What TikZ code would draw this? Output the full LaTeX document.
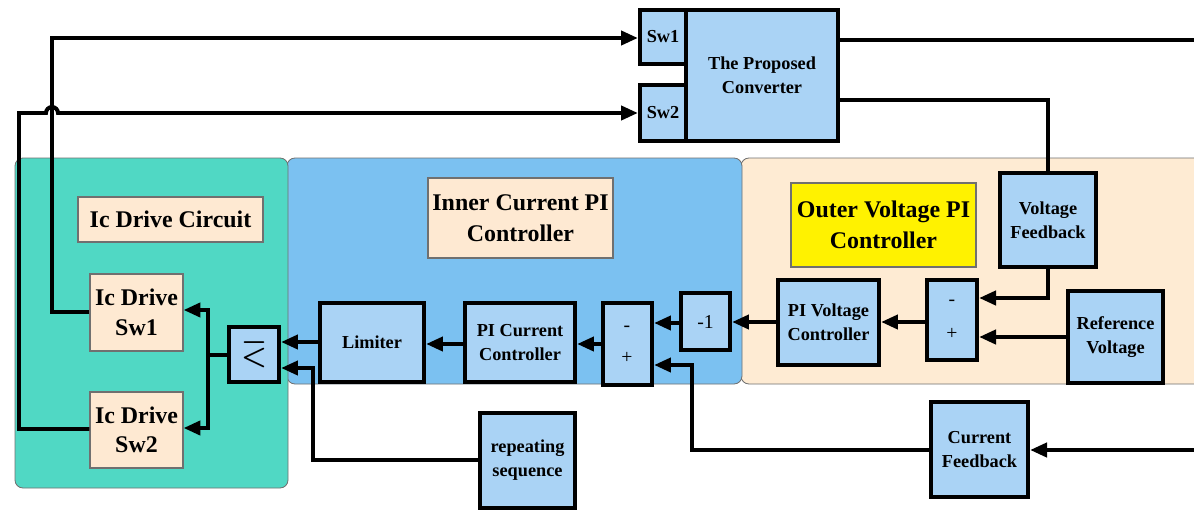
\documentclass[tikz,border=0pt]{standalone}
\usepackage{fontspec}
\setmainfont{Liberation Serif}
\usetikzlibrary{arrows.meta,calc}

\definecolor{tealzone}{HTML}{50D8C4}
\definecolor{bluezone}{HTML}{7BC1F1}
\definecolor{peachzone}{HTML}{FEEBD3}
\definecolor{blockblue}{HTML}{AAD3F5}
\definecolor{titlepeach}{HTML}{FEE9D2}
\definecolor{zoneedge}{HTML}{707070}

% box from its corners (x1,y1)-(x2,y2): style, name, corners, text
\newcommand\bx[7]{%
  \node[#1, minimum width={(#5-#3)*0.025cm}, minimum height={(#6-#4)*0.025cm}]
    (#2) at ({(#3+#5)/2},{(#4+#6)/2}) {#7};}

\begin{document}
\begin{tikzpicture}[x=0.025cm,y=-0.025cm,
  zone/.style={draw=zoneedge,line width=0.6pt,rounded corners=0.2cm},
  blk/.style={draw=black,line width=3pt,fill=blockblue,align=center,
    inner sep=0pt,font=\bfseries\fontsize{13}{17}\selectfont},
  drv/.style={draw=zoneedge,line width=0.8pt,fill=titlepeach,align=center,
    inner sep=0pt,font=\bfseries\fontsize{17}{21}\selectfont},
  ttl/.style={draw=zoneedge,line width=0.8pt,fill=titlepeach,align=center,
    inner sep=0pt,font=\bfseries\fontsize{17}{22}\selectfont},
  sgn/.style={inner sep=0pt,font=\fontsize{14}{16}\selectfont},
  wire/.style={draw=black,line width=2.8pt},
  arr/.style={wire,-{Triangle[length=12pt,width=10pt]}},
]
\useasboundingbox (0,0) rectangle (1194,512);

% controller zones
\fill[white] (0,0) rectangle (1194,512);
\draw[zone,fill=peachzone] (741,158) rectangle (1215,384);
\draw[zone,fill=bluezone] (287,158) rectangle (742,384);
\draw[zone,fill=tealzone] (15,158) rectangle (288,488);

% zone titles
\bx{ttl}{t1}{78}{197}{263}{242}{Ic Drive Circuit}
\bx{ttl}{t2}{428}{178}{613}{258}{Inner Current PI\\Controller}
\bx{ttl,fill=yellow}{t3}{791}{183}{976}{267}{Outer Voltage PI\\Controller}

% converter
\bx{blk}{conv}{686}{10}{838}{141}{The Proposed\\Converter}
\bx{blk}{sw1}{640}{10}{686}{64}{Sw1}
\bx{blk}{sw2}{640}{85}{686}{141}{Sw2}

% outer voltage loop
\bx{blk}{vfb}{1000}{173}{1096}{267}{Voltage\\Feedback}
\bx{blk}{vref}{1068}{291}{1163}{383}{Reference\\Voltage}
\bx{blk}{sumv}{927}{280}{977}{360}{}
\node[sgn] (sumvm) at (952,303) {-};
\node[sgn] (sumvp) at (952,334) {+};
\bx{blk}{piv}{778}{280}{879}{365}{PI Voltage\\Controller}

% inner current loop
\bx{blk,font=\fontsize{14}{16}\selectfont}{neg}{681}{293}{730}{350}{-1}
\bx{blk}{sumi}{603}{303}{652}{385}{}
\node[sgn] (sumim) at (627,329) {-};
\node[sgn] (sumip) at (627,358) {+};
\bx{blk}{pic}{465}{303}{575}{382}{PI Current\\Controller}
\bx{blk}{lim}{320}{303}{424}{382}{Limiter}
\bx{blk}{rep}{480}{413}{575}{508}{repeating\\sequence}
\bx{blk}{ifb}{931}{402}{1028}{497}{Current\\Feedback}

% drive circuit
\bx{blk,font=\fontsize{20}{20}\selectfont}{cmp}{229}{327}{279}{382}{\rotatebox{180}{\boldmath$\geq$}}
\bx{drv}{drv1}{90}{274}{183}{351}{Ic Drive\\Sw1}
\bx{drv}{drv2}{90}{392}{183}{468}{Ic Drive\\Sw2}

% free ends and branch point
\coordinate (vout) at (1215,40);
\coordinate (iin) at (1215,450);
\coordinate (split) at (208,355);

% converter outputs
\draw[wire] (conv.east |- 0,40) -- (vout);
\draw[wire] (conv.east |- 0,100) -| (vfb.north);

% outer loop signals
\draw[arr] (vfb.south) |- (sumv.east |- 0,298);
\draw[arr] (vref.west |- 0,337) -- (sumv.east |- 0,337);
\draw[arr] (sumv.west |- 0,322) -- (piv.east |- 0,322);
\draw[arr] (piv.west |- 0,322) -- (neg.east |- 0,322);
\draw[arr] (neg.west |- 0,323) -- (sumi.east |- 0,323);

% current feedback
\draw[arr] (iin) -- (ifb.east |- iin);
\draw[arr] (ifb.west |- 0,450) -| (692,365) -- (sumi.east |- 0,365);

% inner loop signals
\draw[arr] (sumi.west |- 0,344) -- (pic.east |- 0,344);
\draw[arr] (pic.west |- 0,344) -- (lim.east |- 0,344);
\draw[arr] (lim.west |- 0,342) -- (cmp.east |- 0,342);
\draw[arr] (rep.west |- 0,460) -| (313,368) -- (cmp.east |- 0,368);

% comparator to the drivers
\draw[wire] (cmp.west |- split) -- (split);
\draw[arr] (split) |- (drv1.east |- 0,310);
\draw[arr] (split) |- (drv2.east |- 0,428);

% drivers to the switches
\draw[arr] (drv1.west |- 0,312) -| (52,38) -- (sw1.west |- 0,38);
\draw[arr] (drv2.west |- 0,429) -| (19,113) -- (46,113)
  arc[start angle=180,end angle=0,radius=0.15cm] -- (sw2.west |- 0,113);
\end{tikzpicture}
\end{document}
